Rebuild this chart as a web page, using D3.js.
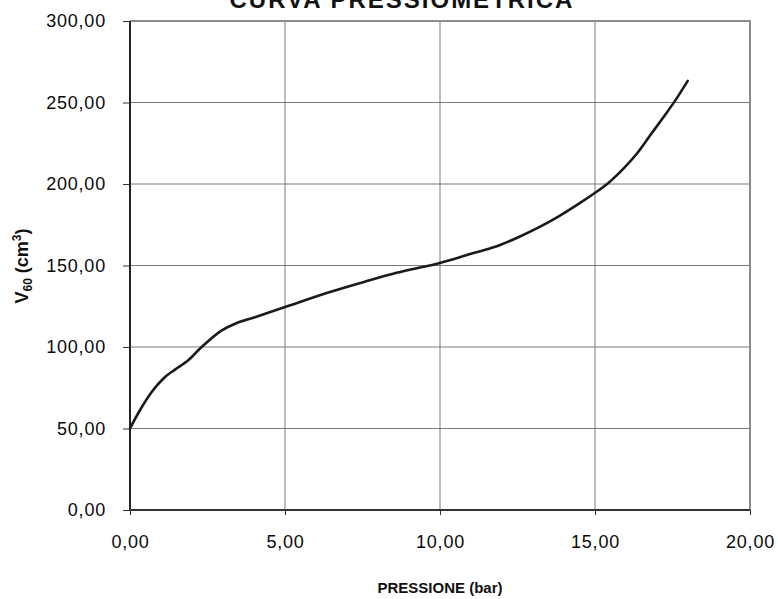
<!DOCTYPE html>
<html>
<head>
<meta charset="utf-8">
<script src="https://cdn.jsdelivr.net/npm/d3@7"></script>
<style>
  body { margin: 0; background: #fff; }
  svg { display: block; font-family: "Liberation Sans", Arial, sans-serif; }
</style>
</head>
<body>
<svg id="chart" width="778" height="599"></svg>
<script>
// Pressiometric curve: pressure (bar) vs. volume V60 (cm³)
const pressure = [0, 0.32, 0.7, 1.13, 1.45, 1.88, 2.31, 2.96, 3.39, 4.03, 5.0, 6.45, 7.53, 8.6, 10.0, 10.97, 11.61, 11.94, 12.58, 13.23, 13.87, 14.52, 15.11, 15.38, 15.91, 16.34, 16.77, 17.2, 17.58, 17.99];
const volume   = [50, 61.2, 72.4, 81.6, 86.1, 91.8, 100.0, 110.2, 114.3, 118.3, 124.5, 133.7, 139.8, 145.5, 151.6, 157.0, 160.5, 162.6, 167.8, 173.8, 180.6, 188.4, 196.0, 199.8, 209.3, 218.4, 229.6, 240.8, 251.0, 263.3];
const xTicks = [0, 5, 10, 15, 20];
const yTicks = [0, 50, 100, 150, 200, 250, 300];
const title = "CURVA PRESSIOMETRICA";
const xTitle = "PRESSIONE (bar)";

const svg = d3.select("#chart");
const plotLeft = 130, plotRight = 750, plotTop = 21, plotBottom = 510;

const x = d3.scaleLinear().domain([0, 20]).range([plotLeft, plotRight]);
const y = d3.scaleLinear().domain([0, 300]).range([plotBottom, plotTop]);
const fmt = d => d.toFixed(2).replace(".", ",");

// gridlines
svg.append("g").selectAll("line").data(xTicks.slice(1, -1)).join("line")
  .attr("x1", d => x(d)).attr("x2", d => x(d)).attr("y1", plotTop).attr("y2", plotBottom)
  .attr("stroke", "#7a7a7a").attr("stroke-width", 1);
svg.append("g").selectAll("line").data(yTicks.slice(1, -1)).join("line")
  .attr("x1", plotLeft).attr("x2", plotRight).attr("y1", d => y(d)).attr("y2", d => y(d))
  .attr("stroke", "#7a7a7a").attr("stroke-width", 1);

// top and right frame
svg.append("path")
  .attr("d", `M${plotLeft},${plotTop}H${plotRight}V${plotBottom}`)
  .attr("fill", "none").attr("stroke", "#8c8c8c").attr("stroke-width", 2);

// axes
const yAxis = d3.axisLeft(y).tickValues(yTicks).tickFormat(fmt).tickSize(7).tickPadding(17);
const xAxis = d3.axisBottom(x).tickValues(xTicks).tickFormat(fmt).tickSize(5).tickPadding(20);

const gy = svg.append("g").attr("transform", `translate(${plotLeft},0)`).call(yAxis);
const gx = svg.append("g").attr("transform", `translate(0,${plotBottom})`).call(xAxis);
[gx, gy].forEach(g => {
  g.select(".domain").remove();
  g.selectAll(".tick line").attr("stroke", "#333");
  g.selectAll(".tick text")
    .attr("fill", "#0a0a0a")
    .style("font-size", "18px")
    .style("letter-spacing", "0.8px")
    .style("font-family", "'Liberation Sans', Arial, sans-serif");
});
gx.selectAll(".tick text").attr("dy", "0.71em");

svg.append("line").attr("x1", plotLeft).attr("x2", plotLeft).attr("y1", plotTop).attr("y2", plotBottom)
  .attr("stroke", "#222").attr("stroke-width", 2);
svg.append("line").attr("x1", plotLeft).attr("x2", plotRight).attr("y1", plotBottom).attr("y2", plotBottom)
  .attr("stroke", "#333").attr("stroke-width", 2);

// curve
const pts = pressure.map((p, i) => [p, volume[i]]);
const line = d3.line().x(d => x(d[0])).y(d => y(d[1])).curve(d3.curveCatmullRom.alpha(0.5));
svg.append("path").datum(pts).attr("d", line)
  .attr("fill", "none").attr("stroke", "#1a1a1a").attr("stroke-width", 2.6)
  .attr("stroke-linejoin", "round").attr("stroke-linecap", "round");

// titles
svg.append("text").attr("x", 402).attr("y", 8).attr("text-anchor", "middle")
  .style("font-size", "24px").style("font-weight", "bold").style("letter-spacing", "2px")
  .attr("fill", "#111")
  .text(title);

svg.append("text").attr("x", 440).attr("y", 593).attr("text-anchor", "middle")
  .style("font-size", "15px").style("font-weight", "bold").attr("fill", "#111")
  .text(xTitle);

const yt = svg.append("text").attr("transform", "translate(28,266) rotate(-90)")
  .attr("text-anchor", "middle")
  .style("font-size", "18px").style("font-weight", "bold").attr("fill", "#111");
yt.append("tspan").text("V");
yt.append("tspan").attr("dy", 4).style("font-size", "12px").text("60");
yt.append("tspan").attr("dy", -4).text(" (cm");
yt.append("tspan").attr("dy", -7).style("font-size", "12px").text("3");
yt.append("tspan").attr("dy", 7).text(")");
</script>
</body>
</html>
